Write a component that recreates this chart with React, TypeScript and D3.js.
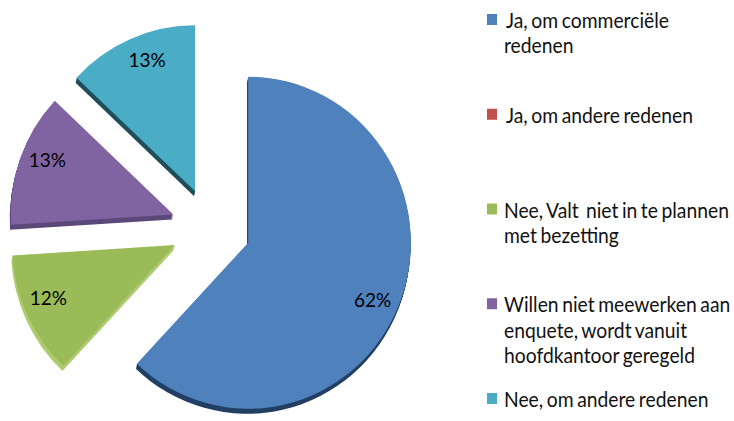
import React, { useEffect, useRef } from "react";
import * as d3 from "d3";

const categories = [
  "Ja, om commerciële redenen",
  "Ja, om andere redenen",
  "Nee, Valt  niet in te plannen met bezetting",
  "Willen niet meewerken aan enquete, wordt vanuit hoofdkantoor geregeld",
  "Nee, om andere redenen",
];
const legendLines = [
  ["Ja, om commerciële", "redenen"],
  ["Ja, om andere redenen"],
  ["Nee, Valt  niet in te plannen", "met bezetting"],
  ["Willen niet meewerken aan", "enquete, wordt vanuit", "hoofdkantoor geregeld"],
  ["Nee, om andere redenen"],
];
const values = [62, 0, 12, 13, 13];
const colors = ["#4F81BD", "#C0504D", "#9BBB59", "#8064A2", "#4BACC6"];
const sideColors = ["#213E63", "#7A2E2C", "#AECB70", "#5B4878", "#1F4E5A"];

const App: React.FC = () => {
  const svgRef = useRef<SVGSVGElement>(null);

  useEffect(() => {
    if (!svgRef.current) return;
    const svg = d3.select(svgRef.current);
    svg.selectAll("*").remove();

    const width = 734;
    const height = 421;
    const cx = 211;
    const cy = 228;
    const radius = 166;
    const squeeze = 0.98; // slight horizontal flattening of the 3D top face
    const explode = 40;
    const depth = 5;

    const pie = d3
      .pie<number>()
      .sort(null)
      .value((d) => d);
    const arcs = pie(values);

    const arc = d3.arc<d3.PieArcDatum<number>>().innerRadius(0).outerRadius(radius);

    // offset of each exploded slice along its mid angle
    const offset = (d: d3.PieArcDatum<number>) => {
      const mid = (d.startAngle + d.endAngle) / 2;
      return [cx + explode * Math.sin(mid), cy - explode * Math.cos(mid)];
    };

    const pieG = svg.append("g");
    const visible = arcs.filter((d) => d.value > 0);

    // 3D side (extrusion downwards)
    visible.forEach((d) => {
      const [ox, oy] = offset(d);
      for (let k = 1; k <= depth; k++) {
        pieG
          .append("path")
          .attr("d", arc(d)!)
          .attr("transform", `translate(${ox - k * 0.2}, ${oy + k}) scale(${squeeze}, 1)`)
          .attr("fill", sideColors[d.index]);
      }
    });

    // top faces
    pieG
      .selectAll(".slice")
      .data(visible)
      .enter()
      .append("path")
      .attr("class", "slice")
      .attr("d", (d) => arc(d)!)
      .attr("transform", (d) => {
        const [ox, oy] = offset(d);
        return `translate(${ox}, ${oy}) scale(${squeeze}, 1)`;
      })
      .attr("fill", (d) => colors[d.index]);

    // percentage labels
    const labelR = radius * 0.84;
    pieG
      .selectAll(".label")
      .data(visible)
      .enter()
      .append("text")
      .attr("class", "label")
      .attr("transform", (d) => {
        const [ox, oy] = offset(d);
        const a = (d.startAngle + d.endAngle) / 2 + 0.05;
        return `translate(${ox + labelR * squeeze * Math.sin(a)}, ${oy - labelR * Math.cos(a)})`;
      })
      .attr("text-anchor", "middle")
      .attr("dy", "0.35em")
      .attr("font-family", "Lato, 'Open Sans', sans-serif")
      .attr("font-size", 19)
      .attr("fill", "#000")
      .text((d) => `${d.value}%`);

    // legend
    const legendY = d3
      .scalePoint<string>()
      .domain(categories)
      .range([28, 407]);

    const legend = svg
      .append("g")
      .selectAll(".legend-item")
      .data(categories)
      .enter()
      .append("g")
      .attr("class", "legend-item")
      .attr("transform", (d) => `translate(487, ${legendY(d)})`);

    legend
      .append("rect")
      .attr("x", 0)
      .attr("y", -14)
      .attr("width", 10)
      .attr("height", 11)
      .attr("fill", (_, i) => colors[i]);

    const sx = 0.92;
    legend.each(function (_, i) {
      const t = d3
        .select(this)
        .append("text")
        .attr("font-family", "Lato, 'Open Sans', sans-serif")
        .attr("font-size", 21)
        .attr("fill", "#111")
        .attr("word-spacing", -1.5)
        .style("white-space", "pre")
        .attr("transform", `scale(${sx}, 1)`);
      legendLines[i].forEach((line, j) => {
        t.append("tspan")
          .attr("x", (i < 2 && j === 0 ? 19 : 17) / sx)
          .attr("y", j * 25.5)
          .text(line);
      });
    });

    svg.attr("width", width).attr("height", height);
  }, []);

  return (
    <svg
      ref={svgRef}
      width={734}
      height={421}
      style={{ position: "absolute", left: 0, top: 0, background: "#fff" }}
    ></svg>
  );
};

export default App;
